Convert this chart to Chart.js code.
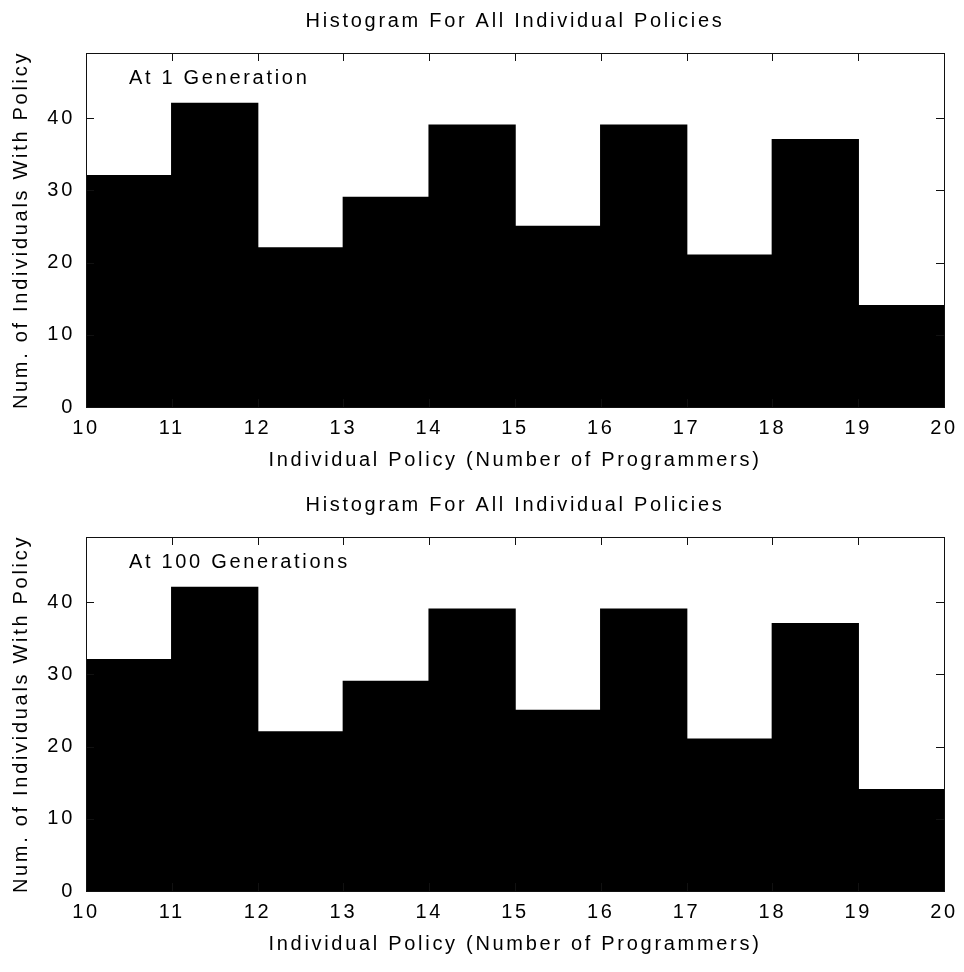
<!DOCTYPE html>
<html><head><meta charset="utf-8">
<script src="https://cdn.jsdelivr.net/npm/chart.js@4.4.1/dist/chart.umd.min.js"></script>
<style>
html,body{margin:0;padding:0;background:#fff;}
#wrap{position:relative;width:964px;height:972px;overflow:hidden;background:#fff;}
canvas{position:absolute;left:0;}
</style></head><body>
<div id="wrap">
<canvas id="c1" width="964" height="486" style="top:0px"></canvas>
<canvas id="c2" width="964" height="486" style="top:484px"></canvas>
</div>
<script>
// ---- data ----
const binCenters = [10.5, 11.5, 12.5, 13.5, 14.5, 15.5, 16.5, 17.5, 18.5, 19.5];
const countsGen1 = [32, 42, 22, 29, 39, 25, 39, 21, 37, 14];
const countsGen100 = [32, 42, 22, 29, 39, 25, 39, 21, 37, 14];
const xTickValues = [10, 11, 12, 13, 14, 15, 16, 17, 18, 19, 20];
const yTickValues = [0, 10, 20, 30, 40];
const chartTitle = 'Histogram For All Individual Policies';
const xAxisTitle = 'Individual Policy (Number of Programmers)';
const yAxisTitle = 'Num. of Individuals With Policy';
const panelLabels = ['At 1 Generation', 'At 100 Generations'];

const FONT = '"Liberation Sans", Arial, Helvetica, sans-serif';
const SPACING = '2.7px';
Chart.defaults.font.family = FONT;
Chart.defaults.font.size = 20;
Chart.defaults.color = '#000';

const spacingPlugin = {
  id: 'spacing',
  beforeLayout(chart) { chart.ctx.letterSpacing = SPACING; },
  beforeDraw(chart) { chart.ctx.letterSpacing = SPACING; }
};

const framePlugin = {
  id: 'frame',
  afterDatasetsDraw(chart, args, opts) {
    const ctx = chart.ctx, a = chart.chartArea;
    const xs = chart.scales.x, ys = chart.scales.y;
    const L = 8;
    ctx.save();
    ctx.strokeStyle = '#111';
    ctx.lineWidth = 1;
    ctx.beginPath();
    xs.ticks.forEach(t => {
      const px = Math.round(xs.getPixelForValue(t.value)) + 0.5;
      ctx.moveTo(px, a.top); ctx.lineTo(px, a.top + L);
      ctx.moveTo(px, a.bottom); ctx.lineTo(px, a.bottom - L);
    });
    ys.ticks.forEach(t => {
      const py = Math.round(ys.getPixelForValue(t.value)) + 0.5;
      ctx.moveTo(a.left, py); ctx.lineTo(a.left + L, py);
      ctx.moveTo(a.right, py); ctx.lineTo(a.right - L, py);
    });
    ctx.stroke();
    ctx.strokeRect(Math.round(a.left) + 0.5, Math.round(a.top) + 0.5,
                   Math.round(a.right - a.left), Math.round(a.bottom - a.top));
    // panel label
    ctx.fillStyle = '#000';
    ctx.font = '20px ' + FONT;
    ctx.letterSpacing = SPACING;
    ctx.textAlign = 'left';
    ctx.textBaseline = 'middle';
    ctx.fillText(opts.text, xs.getPixelForValue(opts.x), ys.getPixelForValue(opts.y));
    ctx.restore();
  }
};

function makeChart(id, counts, label) {
  return new Chart(document.getElementById(id), {
    type: 'bar',
    data: {
      datasets: [{
        data: binCenters.map((c, i) => ({ x: c, y: counts[i] })),
        backgroundColor: '#000',
        borderWidth: 0,
        inflateAmount: 0.75,
        barPercentage: 1.0,
        categoryPercentage: 1.0
      }]
    },
    options: {
      responsive: false,
      animation: false,
      devicePixelRatio: 1,
      layout: { padding: { left: 0, right: 20, top: 0, bottom: 0 } },
      plugins: {
        legend: { display: false },
        tooltip: { enabled: false },
        title: {
          display: true,
          text: chartTitle,
          fullSize: false,
          font: { size: 20, weight: 'normal', lineHeight: 1.2 },
          color: '#000',
          padding: { top: 9, bottom: 20 }
        },
        frame: { text: label, x: 10.5, y: 45.5 }
      },
      scales: {
        x: {
          type: 'linear',
          offset: false,
          min: 10, max: 20,
          grid: { display: false, drawTicks: false, offset: false },
          border: { display: false },
          ticks: { padding: 9, maxRotation: 0, autoSkip: false, font: { size: 20 } },
          afterBuildTicks(s) { s.ticks = xTickValues.map(v => ({ value: v })); },
          afterFit(s) { s.height = 79; s.paddingLeft = 0; s.paddingRight = 0; },
          title: { display: true, text: xAxisTitle, font: { size: 20 }, padding: { top: 0, bottom: 14 } }
        },
        y: {
          min: 0, max: 49,
          grid: { display: false, drawTicks: false },
          border: { display: false },
          ticks: { padding: 11, font: { size: 20 } },
          afterBuildTicks(s) { s.ticks = yTickValues.map(v => ({ value: v })); },
          afterFit(s) { s.width = 86; },
          title: { display: true, text: yAxisTitle, font: { size: 20 }, padding: { top: 9, bottom: 0 } }
        }
      }
    },
    plugins: [spacingPlugin, framePlugin]
  });
}

makeChart('c1', countsGen1, panelLabels[0]);
makeChart('c2', countsGen100, panelLabels[1]);
</script>
</body></html>
